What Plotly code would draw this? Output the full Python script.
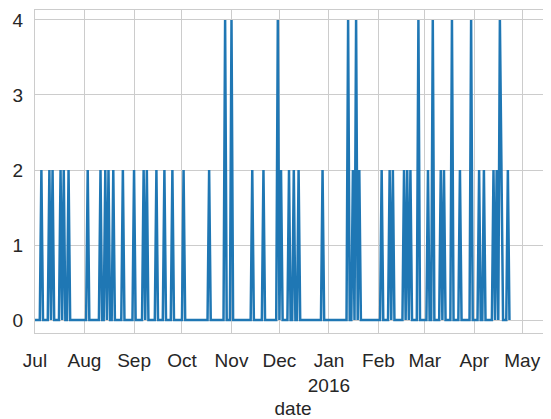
import pandas as pd
import plotly.graph_objects as go

# ---- data ----
start_date = "2015-07-01"
end_date = "2016-04-23"

spike_dates = [
    "2015-07-05", "2015-07-10", "2015-07-12", "2015-07-17", "2015-07-19", "2015-07-22",
    "2015-08-03", "2015-08-11", "2015-08-14", "2015-08-16", "2015-08-19", "2015-08-25",
    "2015-09-01", "2015-09-07", "2015-09-09", "2015-09-15", "2015-09-20", "2015-09-25",
    "2015-10-02", "2015-10-18", "2015-10-28",
    "2015-11-01", "2015-11-14", "2015-11-21", "2015-11-30",
    "2015-12-02", "2015-12-07", "2015-12-10", "2015-12-13", "2015-12-28",
    "2016-01-13", "2016-01-16", "2016-01-18", "2016-01-20",
    "2016-02-03", "2016-02-08", "2016-02-10", "2016-02-17", "2016-02-19", "2016-02-21", "2016-02-26",
    "2016-03-03", "2016-03-06", "2016-03-11", "2016-03-13", "2016-03-18", "2016-03-23", "2016-03-30",
    "2016-04-04", "2016-04-07", "2016-04-13", "2016-04-15", "2016-04-17", "2016-04-18", "2016-04-22",
]
spike_values = [
    2, 2, 2, 2, 2, 2,
    2, 2, 2, 2, 2, 2,
    2, 2, 2, 2, 2, 2,
    2, 2, 4,
    4, 2, 2, 4,
    2, 2, 2, 2, 2,
    4, 2, 4, 2,
    2, 2, 2, 2, 2, 2, 4,
    2, 4, 2, 2, 4, 2, 4,
    2, 2, 2, 2, 4, 2, 2,
]

tick_dates = ["2015-07-01", "2015-08-01", "2015-09-01", "2015-10-01", "2015-11-01",
              "2015-12-01", "2016-01-01", "2016-02-01", "2016-03-01", "2016-04-01",
              "2016-05-01"]
tick_labels = ["Jul", "Aug", "Sep", "Oct", "Nov", "Dec", "Jan<br>2016", "Feb", "Mar",
               "Apr", "May"]
y_ticks = [0, 1, 2, 3, 4]

# baseline of the daily series is 0; spikes
days = pd.date_range(start_date, end_date, freq="D")
series = pd.Series(0, index=days, dtype=float)
series.loc[pd.to_datetime(spike_dates)] = spike_values

font_family = "Liberation Sans, Arial, sans-serif"
grid_col = "#cccccc"
text_col = "#262626"

fig = go.Figure()
fig.add_trace(go.Scatter(
    x=series.index, y=series.values, mode="lines",
    line=dict(color="#1f77b4", width=2.5),
    showlegend=False,
))

# page body has an 8px margin, so the figure is 8px smaller than the window
fig.update_layout(
    width=543, height=411,
    margin=dict(l=27, r=0, t=2, b=86),
    paper_bgcolor="white", plot_bgcolor="white",
    font=dict(family=font_family, size=19, color=text_col),
)
fig.update_xaxes(
    type="date",
    range=["2015-07-01", "2016-05-19"],
    tickvals=tick_dates, ticktext=tick_labels,
    showgrid=True, gridcolor=grid_col, gridwidth=1.3,
    showline=True, linecolor=grid_col, linewidth=1.3, mirror=True,
    zeroline=False, ticks="",
    ticklabelstandoff=10,
    automargin=False,
    tickfont=dict(size=19, color=text_col),
    title=dict(text="date", font=dict(size=19, color=text_col), standoff=14),
)
fig.update_yaxes(
    range=[-0.173, 4.133],
    tickvals=y_ticks,
    showgrid=True, gridcolor=grid_col, gridwidth=1.3,
    showline=True, linecolor=grid_col, linewidth=1.3, mirror=False,
    zeroline=False, ticks="",
    ticklabelstandoff=7,
    automargin=False,
    tickfont=dict(size=19, color=text_col),
)

fig.write_html("out.html")
